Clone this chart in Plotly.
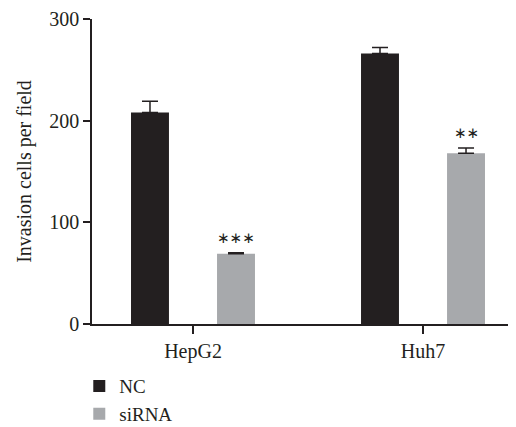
import plotly.graph_objects as go

categories = ["HepG2", "Huh7"]
nc_values = [208, 266]
nc_errors = [11, 6]
sirna_values = [69, 168]
sirna_errors = [1, 5]
significance = ["∗∗∗", "∗∗"]
y_ticks = [0, 100, 200, 300]

FONT = "Liberation Serif"
DARK = "#231f20"
GRAY = "#a7a9ac"

xpos = list(range(len(categories)))
bw = 0.165
sep = 0.187

fig = go.Figure()
fig.add_trace(go.Bar(
    x=xpos, y=nc_values, name="NC", width=bw, offset=-sep - bw / 2,
    marker=dict(color=DARK, line=dict(width=0)),
    error_y=dict(type="data", array=nc_errors, arrayminus=[0] * len(nc_errors),
                 symmetric=False, color=DARK, thickness=1.5, width=8),
))
fig.add_trace(go.Bar(
    x=xpos, y=sirna_values, name="siRNA", width=bw, offset=sep - bw / 2,
    marker=dict(color=GRAY, line=dict(width=0)),
    error_y=dict(type="data", array=sirna_errors, arrayminus=[0] * len(sirna_errors),
                 symmetric=False, color=DARK, thickness=1.5, width=8),
))

for i, s in enumerate(significance):
    fig.add_annotation(
        x=xpos[i] + sep, y=sirna_values[i] + sirna_errors[i] + 15,
        text=s, showarrow=False, yanchor="middle",
        font=dict(family="DejaVu Sans", size=15, color=DARK),
    )

# page body has an 8px default margin: figure is sized to fit the window
fig.update_layout(
    width=508, height=419,
    margin=dict(l=84, r=0, t=11, b=103, autoexpand=False),
    paper_bgcolor="white", plot_bgcolor="white",
    barmode="overlay",
    font=dict(family=FONT, size=20, color=DARK),
    showlegend=True,
    legend=dict(
        x=-0.03, xanchor="left", y=-0.1415, yanchor="top",
        orientation="v", font=dict(family=FONT, size=19, color=DARK),
        bgcolor="rgba(0,0,0,0)", tracegroupgap=0, itemclick=False,
    ),
    xaxis=dict(
        range=[-0.4391, 1.4043], tickvals=xpos, ticktext=categories,
        showgrid=False, zeroline=False, showline=True, linecolor=DARK, linewidth=1.5,
        ticks="outside", ticklen=8, tickwidth=1.5, tickcolor=DARK,
        tickfont=dict(family=FONT, size=20, color=DARK),
    ),
    yaxis=dict(
        range=[0, 300], tickvals=y_ticks,
        showgrid=False, zeroline=False, showline=True, linecolor=DARK, linewidth=1.5,
        ticks="outside", ticklen=7, tickwidth=1.5, tickcolor=DARK,
        tickfont=dict(family=FONT, size=20, color=DARK),
        title=dict(text="Invasion cells per field", standoff=12,
                   font=dict(family=FONT, size=20, color=DARK)),
    ),
)

fig.write_html("out.html")
